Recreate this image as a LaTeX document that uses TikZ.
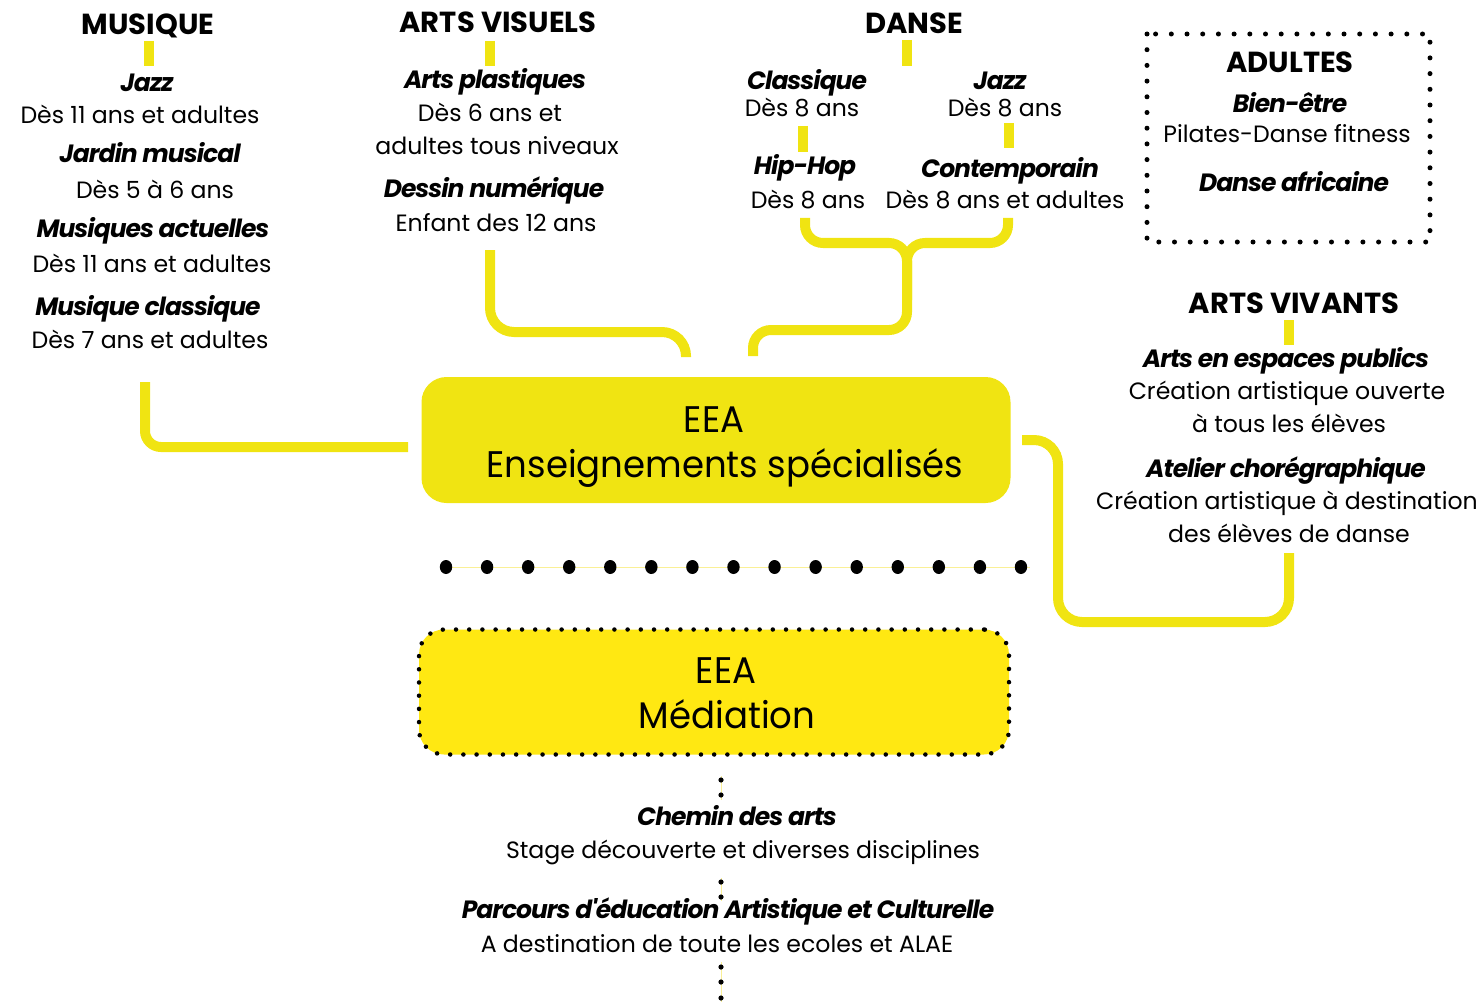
\documentclass[tikz,border=0pt]{standalone}
\usepackage{fontspec}
\setmainfont{Poppins}[Numbers=OldStyle]
\newfontfamily\tightfont{Poppins}[LetterSpace=-4]
\newfontfamily\boxfont{Poppins}[FakeStretch=0.96]
\definecolor{eeay}{RGB}{240,228,18}
\definecolor{medy}{RGB}{255,232,18}
\definecolor{thiny}{RGB}{250,240,150}
\begin{document}
\begin{tikzpicture}[x=1pt,y=-1pt,
  txt/.style={anchor=base, inner sep=0pt, font=\fontsize{23.6}{28}\selectfont},
  ttl/.style={anchor=base, inner sep=0pt, font=\tightfont\bfseries\itshape\fontsize{25}{29}\selectfont},
  hd/.style={anchor=base, inner sep=0pt, font=\bfseries\fontsize{29}{34}\selectfont},
  boxtxt/.style={anchor=base, inner sep=0pt, font=\boxfont\fontsize{37}{42}\selectfont},
  bar/.style={draw=eeay, line width=10pt},
  conn/.style={draw=eeay, line width=10pt, rounded corners=24pt},
  mainbox/.style={fill=eeay, rounded corners=25pt, minimum width=589pt, minimum height=126pt, inner sep=0pt},
  medbox/.style={fill=medy, draw=black, dash pattern=on 0pt off 13.2pt, line cap=round, line width=4.5pt, rounded corners=25pt, minimum width=590pt, minimum height=125pt, inner sep=0pt},
  dotbox/.style={draw=black, dash pattern=on 0pt off 15.7pt, line cap=round, line width=5pt},
  bigdot/.style={fill=black},
  smalldot/.style={fill=black},
  thinline/.style={draw=thiny, line width=0.8pt}
]
\useasboundingbox (0,0) rectangle (1483,1003);

% ---------- MUSIQUE ----------
\node[hd]  (mus)  at (148,34.5) {MUSIQUE};
\node[ttl] (mjz)  at (147,92)  {Jazz};
\node[txt] (mjzt) at (140,124) {Dès 11 ans et adultes};
\node[ttl] (mjm)  at (150,163) {Jardin musical};
\node[txt] (mjmt) at (155,199) {Dès 5 à 6 ans};
\node[ttl] (mma)  at (153,237) {Musiques actuelles};
\node[txt] (mmat) at (152,272) {Dès 11 ans et adultes};
\node[ttl] (mmc)  at (148,315) {Musique classique};
\node[txt] (mmct) at (150,348) {Dès 7 ans et adultes};
\coordinate (musb1) at (149,41);
\coordinate (musb2) at (149,66);
\draw[bar] (musb1) -- (musb2);

% ---------- ARTS VISUELS ----------
\node[hd]  (av)   at (498,33)  {ARTS VISUELS};
\node[ttl] (avap) at (495,89)  {Arts plastiques};
\node[txt] (avt1) at (490,122) {Dès 6 ans et};
\node[txt] (avt2) at (497,155) {adultes tous niveaux};
\node[ttl] (avdn) at (494,198) {Dessin numérique};
\node[txt] (avt3) at (496,232) {Enfant des 12 ans};
\coordinate (avb1) at (490,41);
\coordinate (avb2) at (490,66);
\draw[bar] (avb1) -- (avb2);

% ---------- DANSE ----------
\node[hd]  (da)   at (914,34)  {DANSE};
\node[ttl] (dcl)  at (807,90)  {Classique};
\node[txt] (dclt) at (802,117) {Dès 8 ans};
\node[ttl] (djz)  at (1000,90) {Jazz};
\node[txt] (djzt) at (1005,117) {Dès 8 ans};
\node[ttl] (dhh)  at (805,175) {Hip-Hop};
\node[txt] (dhht) at (808,208) {Dès 8 ans};
\node[ttl] (dco)  at (1010,178) {Contemporain};
\node[txt] (dcot) at (1005,208) {Dès 8 ans et adultes};
\coordinate (dab1) at (907,40);
\coordinate (dab2) at (907,66);
\draw[bar] (dab1) -- (dab2);
\coordinate (dlb1) at (803,126);
\coordinate (dlb2) at (803,152);
\draw[bar] (dlb1) -- (dlb2);
\coordinate (drb1) at (1009,123);
\coordinate (drb2) at (1009,148);
\draw[bar] (drb1) -- (drb2);

% ---------- ADULTES ----------
\draw[dotbox] (1147,34) rectangle (1430,242);
\node[hd]  (ad)   at (1290,73)  {ADULTES};
\node[ttl] (adbe) at (1290,113) {Bien-être};
\node[txt] (adpi) at (1287,143) {Pilates-Danse fitness};
\node[ttl] (adda) at (1294,192) {Danse africaine};

% ---------- ARTS VIVANTS ----------
\node[hd]  (avv)  at (1294,313) {ARTS VIVANTS};
\node[ttl] (avep) at (1286,367) {Arts en espaces publics};
\node[txt] (avv1) at (1287,399) {Création artistique ouverte};
\node[txt] (avv2) at (1289,432) {à tous les élèves};
\node[ttl] (avac) at (1286,477) {Atelier chorégraphique};
\node[txt] (avv3) at (1287,509) {Création artistique à destination};
\node[txt] (avv4) at (1289,542) {des élèves de danse};
\coordinate (avvb1) at (1289,320);
\coordinate (avvb2) at (1289,345);
\draw[bar] (avvb1) -- (avvb2);

% ---------- main box ----------
\node[mainbox] (eea) at (716,440) {};
\node[boxtxt] (eea1) at (714,432) {EEA};
\node[boxtxt] (eea2) at (725,477) {Enseignements spécialisés};

% ---------- connectors ----------
\coordinate (cm1) at (145,382);
\coordinate (cm2) at (408,447);
\draw[conn, rounded corners=16pt] (cm1) |- (cm2);

\coordinate (cv1) at (490,250);
\coordinate (cv2) at (686,357);
\draw[conn] (cv1) -- (490,332) -- (686,332) -- (cv2);

\coordinate (cd1) at (805,218);
\coordinate (cd2) at (1008,218);
\coordinate (cd3) at (753,356);
\draw[conn, rounded corners=18pt] (cd1) -- (805,243) -- (907,243) -- (907,330) -- (753,330) -- (cd3);
\draw[conn, rounded corners=18pt] (cd2) -- (1008,243) -- (907,243) -- (907,300);

\coordinate (cav1) at (1289,553);
\coordinate (cav2) at (1022,440);
\draw[conn] (cav1) -- (1289,622) -- (1058,622) -- (1058,440) -- (cav2);

% ---------- separator ----------
\coordinate (sep1) at (446,567);
\coordinate (sep2) at (1030,567);
\draw[thinline] (sep1) -- (sep2);
\foreach \i in {0,...,14} {
  \fill[bigdot] ({446+41.07*\i},567) ellipse (6.2pt and 7pt);
}

% ---------- mediation ----------
\node[medbox] (med) at (714,692) {};
\node[boxtxt] (med1) at (726,683) {EEA};
\node[boxtxt] (med2) at (727,728) {Médiation};

% ---------- bottom ----------
\node[ttl] (cda)  at (737,825) {Chemin des arts};
\node[txt] (cdat) at (743,858) {Stage découverte et diverses disciplines};
\node[ttl] (peac) at (728,918) {Parcours d'éducation Artistique et Culturelle};
\node[txt] (peat) at (717,952) {A destination de toute les ecoles et ALAE};

\coordinate (v1) at (721,776);
\coordinate (v2) at (721,800);
\coordinate (v3) at (721,878);
\coordinate (v4) at (721,901);
\coordinate (v5) at (721,962);
\coordinate (v6) at (721,1002);
\draw[thinline] (v1) -- (v2);
\draw[thinline] (v3) -- (v4);
\draw[thinline] (v5) -- (v6);
\foreach \y in {780,795,882,897,967,982,998} {
  \fill[smalldot] (721,\y) circle (2.6pt);
}
\end{tikzpicture}
\end{document}
